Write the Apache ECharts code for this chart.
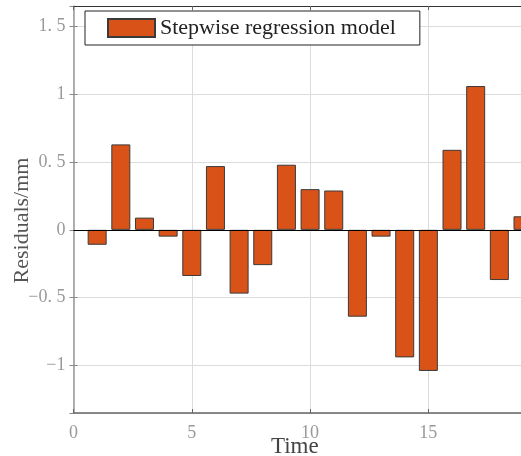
<!DOCTYPE html>
<html>
<head>
<meta charset="utf-8">
<script src="https://cdn.jsdelivr.net/npm/echarts@6/dist/echarts.min.js"></script>
<style>
  html, body { margin: 0; padding: 0; background: #fff; }
  #chart { width: 521px; height: 456px; }
</style>
</head>
<body>
<div id="chart"></div>
<script>
const times = [1, 2, 3, 4, 5, 6, 7, 8, 9, 10, 11, 12, 13, 14, 15, 16, 17, 18, 19]
const residuals = [-0.11, 0.63, 0.09, -0.05, -0.34, 0.47, -0.47, -0.26, 0.48, 0.30,
  0.29, -0.64, -0.05, -0.94, -1.04, 0.59, 1.06, -0.37, 0.10]
const seriesName = 'Stepwise regression model'
const yTicks = [-1, -0.5, 0, 0.5, 1, 1.5]

const chart = echarts.init(document.getElementById('chart'))

const serif = 'Liberation Serif'
const fmtY = (v) => {
  const hit = yTicks.find(t => Math.abs(t - v) < 1e-6)
  if (hit === undefined) return ''
  let s = String(Math.abs(hit)).replace('.', '. ')
  return (hit < 0 ? '\u2212' : '') + s
}

const option = {
  animation: false,
  backgroundColor: '#fff',
  grid: { left: 73.5, right: -2, top: 6, bottom: 43, containLabel: false, outerBoundsMode: 'none' },
  legend: {
    data: [{ name: seriesName, icon: 'rect' }],
    left: 85,
    top: 11,
    orient: 'horizontal',
    backgroundColor: '#fff',
    borderColor: '#222',
    borderWidth: 1,
    borderRadius: 0,
    padding: [6, 24, 6, 22],
    itemWidth: 47,
    itemHeight: 18,
    itemGap: 4,
    textStyle: { fontFamily: serif, fontSize: 22, color: '#222' }
  },
  xAxis: [
    {
      type: 'value',
      min: 0,
      max: 19,
      interval: 5,
      name: 'Time',
      nameLocation: 'middle',
      nameGap: 22,
      nameMoveOverlap: false,
      nameTextStyle: { fontFamily: serif, fontSize: 23, color: '#444', padding: [0, 7, 0, 0] },
      axisLine: { show: true, onZero: false, lineStyle: { color: '#666', width: 1.5 } },
      axisTick: { show: true, inside: true, length: 4, lineStyle: { color: '#666' } },
      axisLabel: { fontFamily: serif, fontSize: 18, color: '#999', margin: 11, showMaxLabel: false },
      splitLine: { show: true, lineStyle: { color: '#dcdcdc', width: 1 } }
    },
    {
      type: 'value',
      position: 'top',
      min: 0,
      max: 19,
      interval: 5,
      axisLine: { show: true, onZero: false, lineStyle: { color: '#333', width: 1 } },
      axisTick: { show: true, inside: true, length: 4, lineStyle: { color: '#666' } },
      axisLabel: { show: false },
      splitLine: { show: false }
    }
  ],
  yAxis: [
    {
      type: 'value',
      min: -1.35,
      max: 1.65,
      name: 'Residuals/mm',
      nameLocation: 'middle',
      nameGap: 40,
      nameMoveOverlap: false,
      nameTextStyle: { fontFamily: serif, fontSize: 22, color: '#555', padding: [0, 22, 0, 0] },
      axisLine: { show: true, onZero: false, lineStyle: { color: '#999', width: 1.5 } },
      axisTick: { show: true, inside: true, length: 4, lineStyle: { color: '#888' } },
      axisLabel: {
        fontFamily: serif, fontSize: 18, color: '#999', margin: 8,
        showMinLabel: false, showMaxLabel: false, formatter: fmtY
      },
      splitLine: { show: true, lineStyle: { color: '#dcdcdc', width: 1 } }
    },
    {
      type: 'value',
      position: 'right',
      min: -1.35,
      max: 1.65,
      axisLine: { show: false },
      axisTick: { show: true, inside: true, length: 4, lineStyle: { color: '#888' } },
      axisLabel: { show: false },
      splitLine: { show: false }
    }
  ],
  series: [
    {
      name: seriesName,
      type: 'bar',
      xAxisIndex: 0,
      yAxisIndex: 0,
      barWidth: 19,
      clip: true,
      data: times.map((t, i) => [t, residuals[i]]),
      itemStyle: { color: '#D95319', borderColor: '#3a3a3a', borderWidth: 1 },
      markLine: {
        silent: true,
        symbol: 'none',
        label: { show: false },
        lineStyle: { color: '#000', width: 1.2, type: 'solid' },
        data: [{ yAxis: 0 }]
      }
    }
  ]
}

chart.setOption(option)
</script>
</body>
</html>
